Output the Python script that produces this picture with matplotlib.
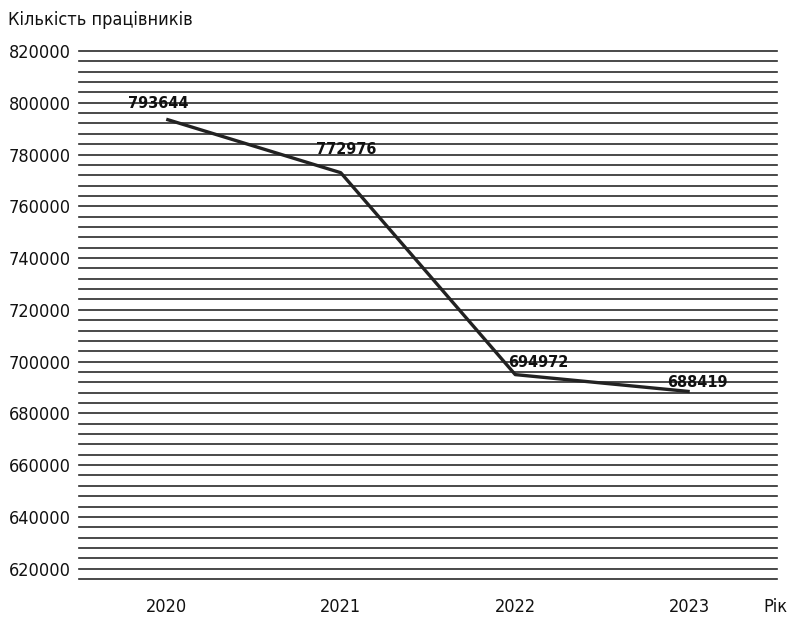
import matplotlib.pyplot as plt
from matplotlib.ticker import MultipleLocator

years = ['2020', '2021', '2022', '2023']
workers = [793644, 772976, 694972, 688419]
y_ticks = [620000, 640000, 660000, 680000, 700000, 720000, 740000, 760000, 780000, 800000, 820000]

plt.rcParams['font.family'] = ['DejaVu Sans']
plt.rcParams['font.stretch'] = 'condensed'

fig = plt.figure(figsize=(7.89, 6.21), dpi=100)
ax = fig.add_axes([79 / 789, 1 - 579 / 621, (777 - 79) / 789, (579 - 51) / 621])

x = range(len(years))
ax.plot(x, workers, color='#222222', lw=2.4, solid_capstyle='butt', zorder=3)

# value labels, nudged per point (pixels)
offsets = [(-8, 16), (5, 23), (23, 12), (8, 9)]
for i, v in enumerate(workers):
    ax.annotate(str(v), (i, v), xytext=offsets[i], textcoords='offset pixels',
                ha='center', va='center', fontsize=11.6, fontweight='bold', color='#111111')

ax.set_xlim(-0.5, 3.5)
ax.set_ylim(616000, 820000)
ax.set_xticks(list(x))
ax.set_xticklabels(years)
ax.set_yticks(y_ticks)
ax.set_yticklabels([str(t) for t in y_ticks])
ax.yaxis.set_minor_locator(MultipleLocator(4000))
ax.grid(True, which='both', axis='y', color='#2a2a2a', lw=1.2, clip_on=False)
ax.set_axisbelow(True)
ax.tick_params(axis='both', length=0, labelsize=13, colors='#111111')
ax.tick_params(axis='y', pad=6)
ax.tick_params(axis='x', pad=14)
ax.tick_params(which='minor', length=0)
for s in ax.spines.values():
    s.set_visible(False)

fig.text(8 / 789, 1 - 20 / 621, 'Кількість працівників', fontsize=13, va='center', ha='left', color='#111111')
fig.text(775 / 789, 1 - 607 / 621, 'Рік', fontsize=13, va='center', ha='center', color='#111111')

fig.savefig('out.png', dpi=100)
